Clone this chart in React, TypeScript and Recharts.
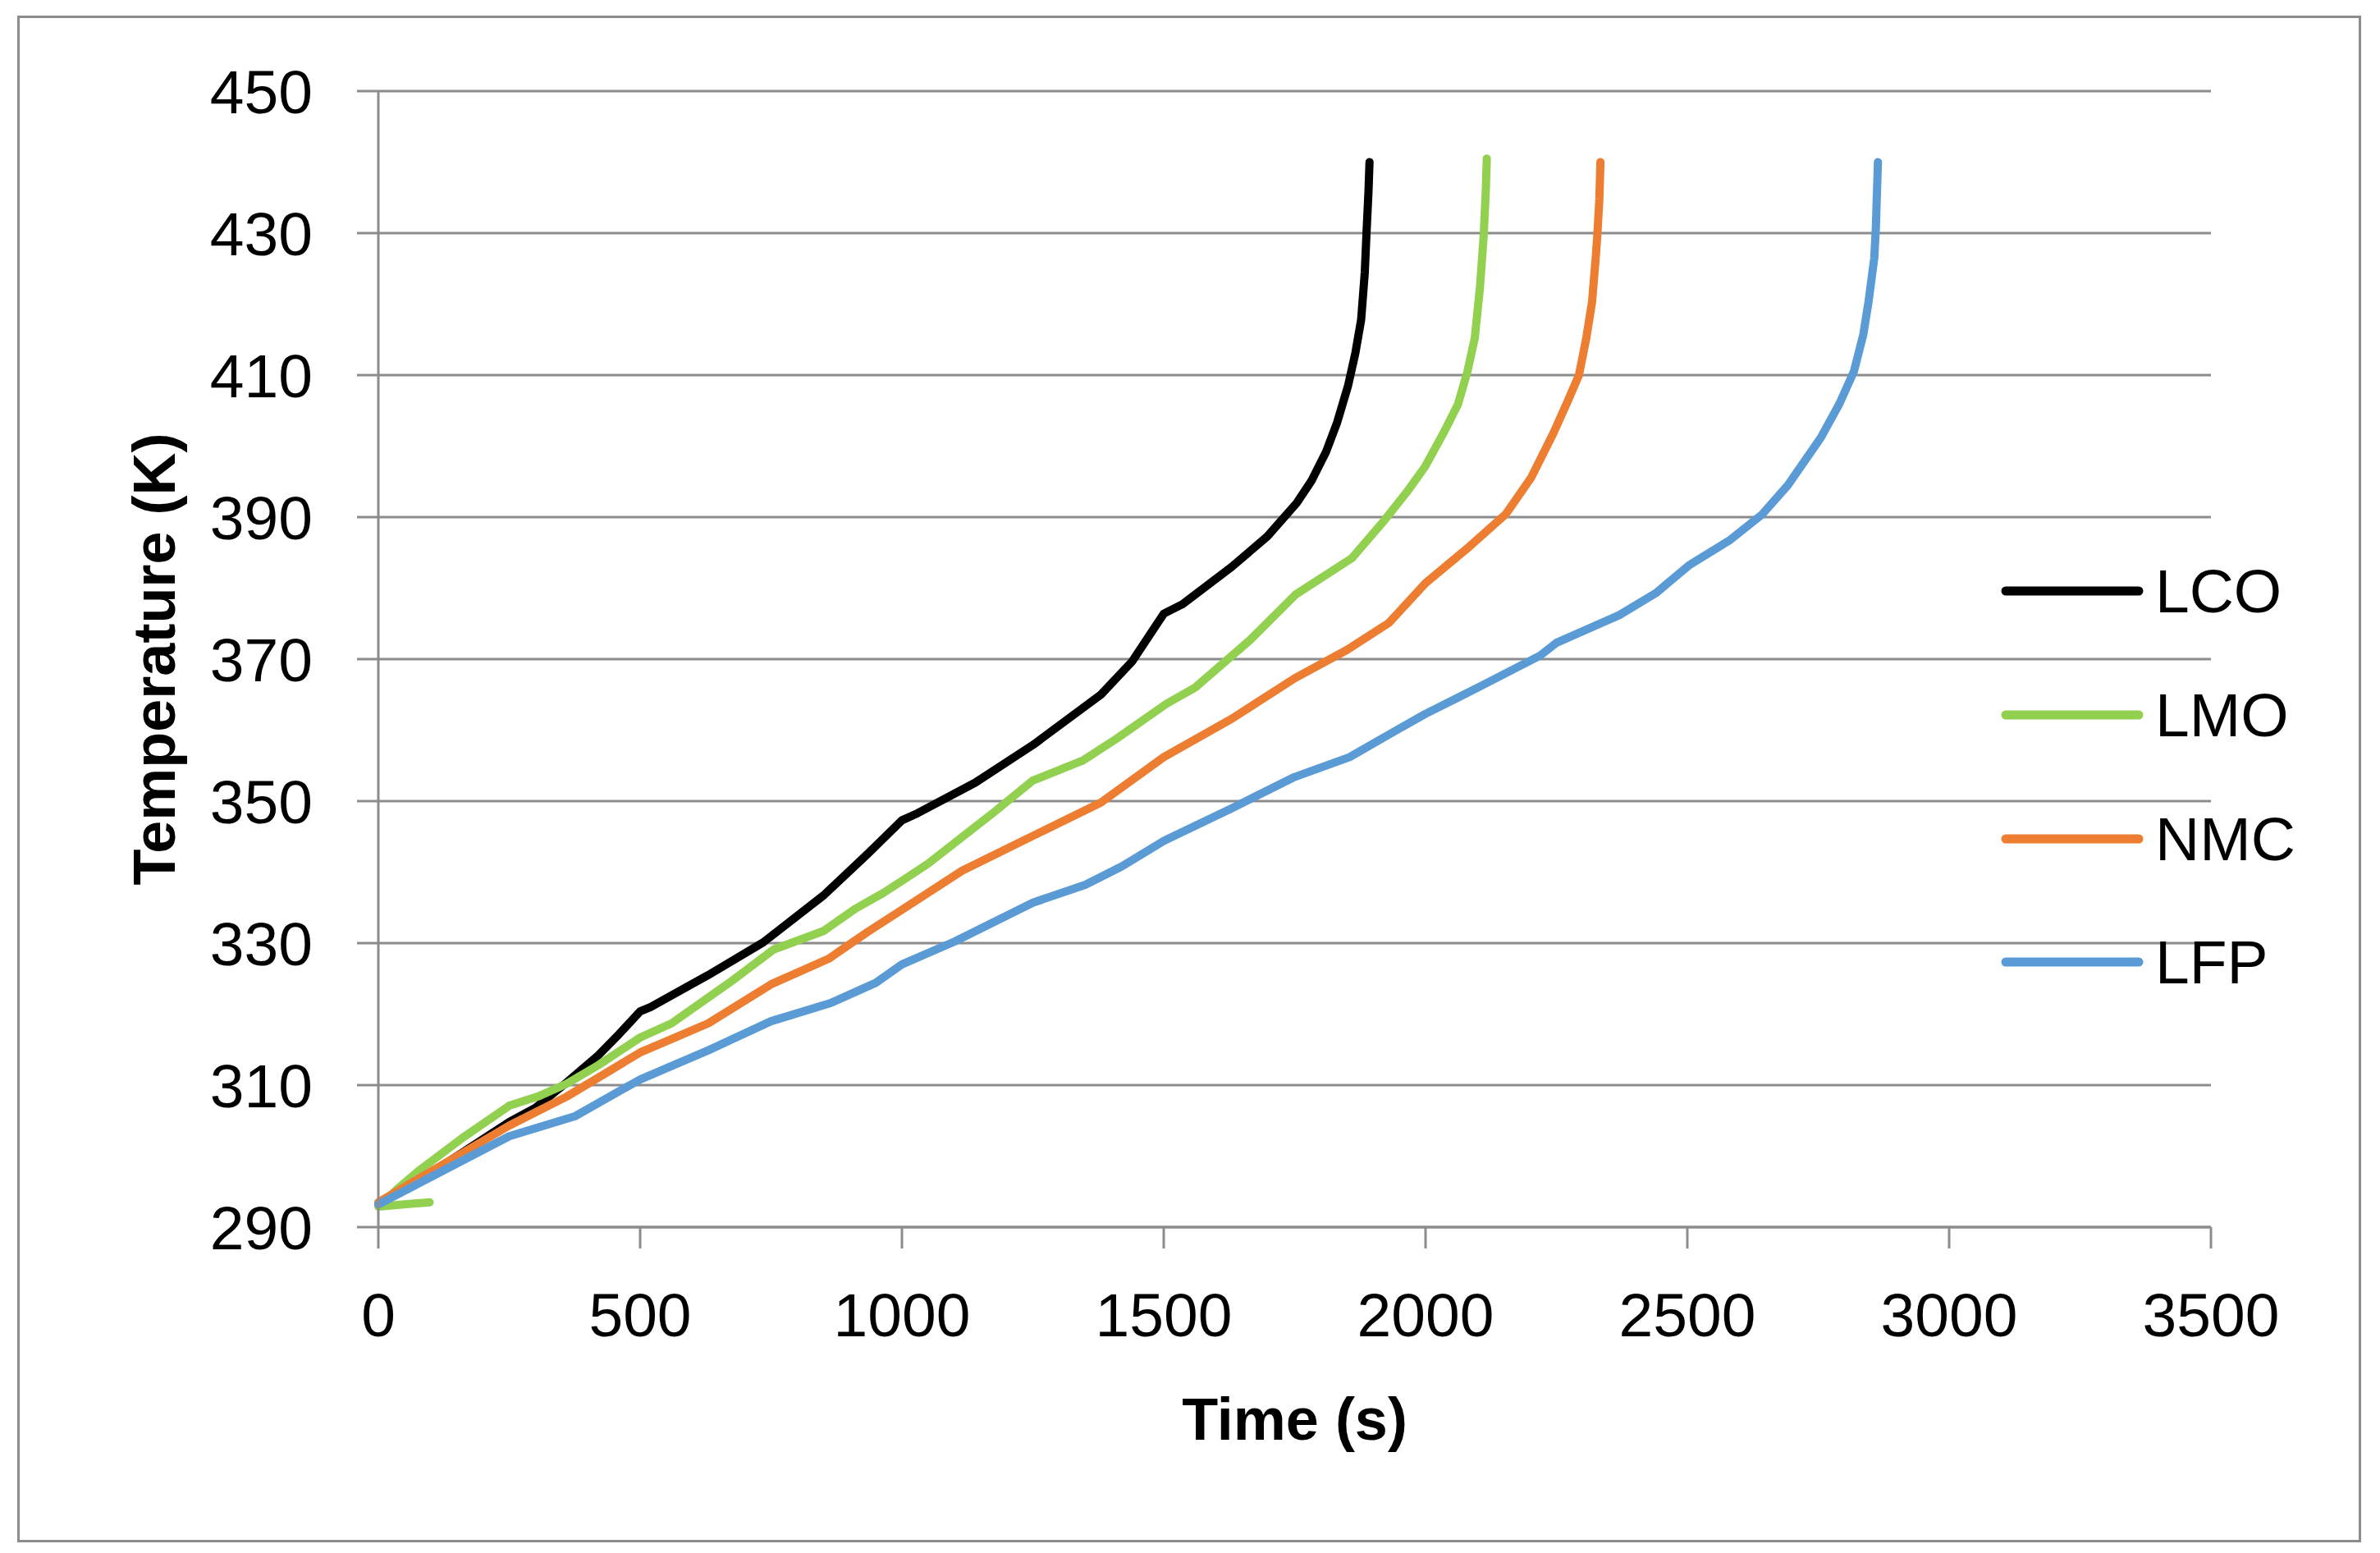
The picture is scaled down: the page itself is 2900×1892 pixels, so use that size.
import React from "react";
import { LineChart, Line, XAxis, YAxis, CartesianGrid, Label } from "recharts";

// time (s) / temperature (K)
const lcoTime = [0, 125, 250, 300, 360, 420, 460, 500, 520, 630, 735, 850, 935, 1000, 1030, 1140, 1250, 1380, 1440, 1500, 1535, 1630, 1698, 1754, 1782, 1810, 1831, 1852, 1866, 1877, 1884, 1887, 1891, 1893];
const lcoTemp = [293.2, 298.8, 304.8, 306.8, 310.4, 314.2, 317.2, 320.4, 321.0, 325.5, 330.1, 336.7, 342.6, 347.3, 348.3, 352.6, 357.9, 365.0, 369.7, 376.4, 377.7, 383.0, 387.3, 392.0, 395.1, 399.2, 403.3, 408.5, 413.1, 417.8, 424.5, 429.6, 435.8, 440.0];

const lmoTime = [98, 0, 40, 80, 165, 250, 305, 360, 420, 500, 560, 670, 755, 850, 910, 965, 1005, 1050, 1175, 1250, 1345, 1410, 1505, 1560, 1665, 1752, 1859, 1922, 1964, 1999, 2034, 2062, 2080, 2094, 2104, 2111, 2115, 2117];
const lmoTemp = [293.5, 292.9, 295.6, 298.1, 302.8, 307.1, 308.4, 310.2, 312.8, 316.7, 318.7, 324.4, 329.1, 331.7, 334.8, 337.1, 339.0, 341.2, 348.4, 352.9, 355.7, 358.8, 363.7, 366.0, 372.7, 379.1, 384.2, 389.6, 393.5, 397.1, 401.8, 405.9, 410.5, 415.2, 422.4, 429.6, 435.8, 440.5];

const nmcTime = [0, 125, 250, 360, 500, 630, 750, 860, 935, 1000, 1115, 1250, 1380, 1500, 1630, 1750, 1850, 1930, 2000, 2083, 2153, 2202, 2244, 2272, 2293, 2307, 2318, 2325, 2328, 2332, 2334];
const nmcTemp = [293.5, 298.9, 304.3, 308.4, 314.6, 318.7, 324.2, 327.8, 331.6, 334.7, 340.2, 345.1, 349.8, 356.2, 361.6, 367.3, 371.3, 375.1, 380.7, 385.8, 390.4, 395.6, 401.8, 406.4, 410.0, 415.2, 420.3, 426.5, 429.6, 434.8, 440.0];

const lfpTime = [0, 125, 250, 375, 500, 630, 750, 865, 950, 1000, 1100, 1250, 1350, 1420, 1500, 1630, 1750, 1855, 1940, 2000, 2100, 2219, 2250, 2370, 2440, 2503, 2580, 2643, 2692, 2755, 2790, 2818, 2836, 2846, 2857, 2860, 2864];
const lfpTemp = [293.2, 298.0, 302.8, 305.6, 310.8, 314.9, 319.0, 321.6, 324.4, 327.0, 330.2, 335.7, 338.2, 340.8, 344.4, 349.0, 353.4, 356.2, 359.8, 362.3, 366.0, 370.5, 372.3, 376.2, 379.3, 383.2, 386.7, 390.4, 394.5, 401.2, 405.9, 410.5, 415.7, 420.3, 426.5, 430.7, 440.0];

const xTicks = [0, 500, 1000, 1500, 2000, 2500, 3000, 3500];
const yTicks = [290, 310, 330, 350, 370, 390, 410, 430, 450];

const series = [
  { name: "LCO", color: "#000000", time: lcoTime, temp: lcoTemp },
  { name: "LMO", color: "#92d050", time: lmoTime, temp: lmoTemp },
  { name: "NMC", color: "#ed7d31", time: nmcTime, temp: nmcTemp },
  { name: "LFP", color: "#5b9bd5", time: lfpTime, temp: lfpTemp },
];

const toPoints = (t: number[], T: number[]) => t.map((x, i) => ({ time: x, temp: T[i] }));

const FONT = "'Liberation Sans', Arial, sans-serif";
const GRID = "#8c8c8c";

const XTitle = (props: any) => {
  const vb = props.viewBox;
  return (
    <text x={vb.x + vb.width / 2} y={vb.y + 234} textAnchor="middle" dominantBaseline="central"
      fontFamily={FONT} fontWeight="bold" fontSize={72} fill="#000">
      Time (s)
    </text>
  );
};

const YTitle = (props: any) => {
  const vb = props.viewBox;
  const cx = vb.x + 68;
  const cy = vb.y + vb.height / 2;
  return (
    <text x={cx} y={cy} transform={`rotate(-90 ${cx} ${cy})`} textAnchor="middle" dominantBaseline="central"
      fontFamily={FONT} fontWeight="bold" fontSize={72} fill="#000">
      Temperature (K)
    </text>
  );
};

const legendRows = [720, 871, 1022, 1172];

export default function App() {
  return (
    <div style={{ position: "absolute", left: 0, top: 0, width: 2900, height: 1892, background: "#fff" }}>
      <div style={{ position: "absolute", left: 21, top: 19, width: 2856, height: 1860, border: `3px solid ${GRID}`, boxSizing: "border-box" }} />
      <div style={{ position: "absolute", left: 0, top: 0 }}>
        <LineChart width={2900} height={1892} margin={{ top: 111, right: 206, bottom: 97, left: 120 }}>
          <CartesianGrid vertical={false} stroke={GRID} strokeWidth={3} />
          <XAxis
            dataKey="time"
            type="number"
            domain={[0, 3500]}
            ticks={xTicks}
            allowDuplicatedCategory={false}
            height={300}
            axisLine={{ stroke: GRID, strokeWidth: 3 }}
            tickLine={{ stroke: GRID, strokeWidth: 3 }}
            tickSize={26}
            tickMargin={54}
            tick={{ fill: "#000", fontSize: 75, fontFamily: FONT }}
          >
            <Label content={XTitle} />
          </XAxis>
          <YAxis
            type="number"
            domain={[290, 450]}
            ticks={yTicks}
            width={341}
            axisLine={{ stroke: GRID, strokeWidth: 3 }}
            tickLine={{ stroke: GRID, strokeWidth: 3 }}
            tickSize={26}
            tickMargin={54}
            tick={{ fill: "#000", fontSize: 75, fontFamily: FONT }}
          >
            <Label content={YTitle} />
          </YAxis>
          {series.map((s) => (
            <Line
              key={s.name}
              data={toPoints(s.time, s.temp)}
              dataKey="temp"
              name={s.name}
              type="linear"
              stroke={s.color}
              strokeWidth={10}
              strokeLinecap="round"
              strokeLinejoin="round"
              dot={false}
              activeDot={false}
              isAnimationActive={false}
            />
          ))}
        </LineChart>
      </div>
      {series.map((s, i) => (
        <div key={s.name} style={{ position: "absolute", left: 2436, top: legendRows[i] - 50, height: 100, display: "flex", alignItems: "center" }}>
          <svg width={180} height={20} style={{ display: "block" }}>
            <line x1={8} y1={10} x2={170} y2={10} stroke={s.color} strokeWidth={11} strokeLinecap="round" />
          </svg>
          <span style={{ marginLeft: 10, fontFamily: FONT, fontSize: 75, color: "#000", lineHeight: "100px" }}>{s.name}</span>
        </div>
      ))}
    </div>
  );
}
